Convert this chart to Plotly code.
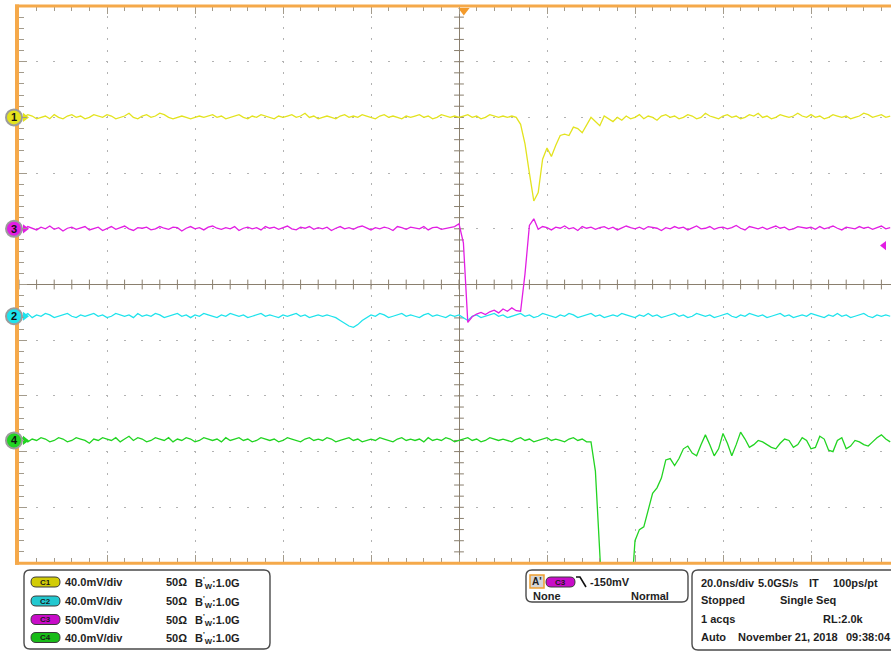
import numpy as np
import plotly.graph_objects as go

# ---------------- acquisition record: 1 ns per point, screen centre = 0 ns ----------------
T_FIRST_NS = -100
T_STEP_NS = 1.0

ch1_mv = [
    1, 0, 2, 1, -1, 0, 1, -1, 2, 0,
    -1, 1, 2, 0, 1, -1, 0, 2, 1, 0,
    2, 1, -1, 0, 1, 3, 0, -1, 1, 2,
    0, 1, 3, 2, 0, -1, 0, 1, 0, -1,
    0, 1, 0, 1, 2, 0, 1, -1, 0, 1,
    2, 0, -1, 1, 0, 2, 1, 0, -1, 1,
    0, 1, 2, 0, 1, 3, 0, 1, -1, 0,
    1, 0, -1, 1, 2, 0, 1, 0, 2, 1,
    0, -1, 1, 2, 0, 1, 0, -1, 1, 0,
    1, 2, 0, 1, -1, 0, 2, 1, 0, 1,
    0, 1, 2, 0, 1, -1, 0, 2, 1, 0,
    1, 0, 1, 0, -5, -19, -40, -60, -54, -30,
    -22, -28, -20, -13, -12, -13, -7, -8, -11, -6,
    0, -3, -6, 1, -1, -3, 0, -2, 1, -1,
    0, 2, -1, 1, 0, -2, 1, 2, 0, 1,
    -1, 0, 2, 1, -1, 0, 3, 1, 0, -1,
    1, 2, 0, 1, -1, 0, 2, 1, 3, 0,
    1, -1, 0, 2, 1, 0, 1, 3, 1, 0,
    2, 0, 1, -1, 0, 2, 1, 0, 1, -1,
    0, 1, 3, 2, 0, 1, 2, 0, 1,
]

ch2_mv = [
    1, 0, 2, -1, 1, 0, 2, 1, -1, 0,
    1, 2, 0, -1, 1, 0, 1, 2, 0, 1,
    -1, 0, 2, 1, 0, 1, -1, 2, 0, 1,
    0, 2, 1, -1, 0, 1, 2, 0, 1, -1,
    1, 0, 2, 1, 0, -1, 1, 0, 2, 1,
    0, 1, -1, 0, 1, 2, 0, 1, 0, -1,
    1, 0, 1, 2, 0, 1, -1, 0, 1, 0,
    1, 0, -1, -3, -5, -7, -8, -6, -3, -1,
    1, 0, 2, 1, -1, 0, 1, 2, 0, 1,
    0, -1, 1, 2, 0, 1, 0, -1, 1, 0,
    1, -1, -3, 0, 1, -1, 0, 1, 2, 0,
    1, -1, 0, 1, 2, 0, 1, -1, 0, 2,
    1, 0, -1, 1, 0, 2, 1, -1, 0, 1,
    2, 0, 1, -1, 0, 1, 0, 2, 1, 0,
    -1, 1, 0, 2, 0, 1, -1, 0, 1, 2,
    0, 1, -1, 0, 2, 1, 0, 1, -1, 0,
    1, 2, 0, -1, 1, 0, 2, 1, 0, 1,
    -1, 0, 1, 2, 0, 1, -1, 0, 1, 0,
    2, 1, 0, -1, 1, 0, 2, 0, 1, -1,
    0, 1, 2, 0, -1, 1, 0, 1, 0,
]

ch3_mv = [
    10, -15, 20, 5, -10, 15, 0, 25, -5, 10,
    -20, 5, 15, -5, 10, 20, -10, 0, 15, -15,
    5, 20, -5, 10, 25, 0, -15, 10, 5, 15,
    -10, 0, 20, 5, -5, 15, 10, -20, 5, 20,
    0, 10, -10, 15, 25, 5, -5, 10, 0, 20,
    -15, 5, 15, 0, 10, -10, 20, 5, 15, -5,
    10, 25, 0, -10, 15, 5, 20, -5, 10, 0,
    15, -15, 5, 20, 0, 10, -5, 15, 25, 5,
    -10, 10, 0, 15, 5, -15, 20, 10, -5, 15,
    5, 0, 20, -10, 10, 15, -5, 5, 10, 20,
    45, -125, -840, -790, -765, -750, -770, -745, -730, -755,
    -720, -740, -710, -735, -740, -405, 30, 90, -5, 20,
    10, -10, 15, 5, 25, 0, 10, -15, 20, 5,
    15, -5, 10, 20, 0, 15, -10, 5, 25, 10,
    0, 15, -5, 20, 10, 5, -15, 10, 0, 20,
    5, 15, -10, 10, 25, 0, 5, 20, -5, 10,
    15, 0, 10, 30, 5, -10, 20, 10, 0, 15,
    -5, 10, 25, 5, 15, -10, 0, 20, 10, 5,
    15, -5, 20, 0, 10, 25, 5, -10, 15, 10,
    0, 20, 5, 15, -5, 10, 25, 0, 10,
]

ch4_mv = [
    0, 2, -1, 1, 0, 2, 1, -1, 0, 2,
    1, -1, 0, 2, 1, 0, -2, 1, 0, 2,
    1, 0, 2, -1, 1, 3, 0, 2, 1, -1,
    0, 2, 1, 0, 2, -1, 1, 0, 2, 1,
    -1, 0, 2, 1, 0, 1, -1, 2, 0, 1,
    2, 0, 1, -1, 0, 2, 1, 0, 1, -1,
    0, 2, 1, 0, -1, 1, 2, 0, 1, 0,
    2, 1, -1, 0, 1, 2, 0, 1, -1, 0,
    1, 0, 2, 1, 0, -1, 1, 2, 0, 1,
    0, 1, -1, 2, 0, 1, 0, 2, 1, -1,
    0, 1, 2, 0, 1, -1, 0, 2, 1, 0,
    1, 0, -1, 1, 2, 0, 1, -1, 0, 1,
    2, 0, 1, 0, -1, 1, 2, 0, 1, -1,
    -1, -22, -75, -140, -150, -150, -150, -150, -150, -118,
    -72, -64, -62, -50, -38, -34, -27, -14, -13, -18,
    -13, -6, -4, -9, -11, -3, 4, -3, -11, -6,
    5, -2, -11, -3, 6, 1, -5, -3, 0, -1,
    -3, -5, -6, -2, 1, 0, -5, -3, 2, 0,
    -6, -5, 3, 1, -7, -8, 0, 2, -6, -4,
    0, -1, -3, -4, -1, 2, 4, 1, -1,
]

# ---------------- vertical / horizontal / trigger settings ----------------
CH_LABELS = ["1", "2", "3", "4"]
CH_DATA = [ch1_mv, ch2_mv, ch3_mv, ch4_mv]
CH_SCALE_MV = [40.0, 40.0, 500.0, 40.0]       # mV/div
CH_POS_DIV = [3.0, -0.57, 1.0, -2.8]           # ground marker position
CH_COLORS = ["#E3E31E", "#1EE3EC", "#E21EE3", "#22D422"]
CH_PILL = ["#D2CC06", "#22C8D0", "#C80CC8", "#18BC18"]
DRAW_ORDER = [0, 1, 2, 3]

NS_PER_DIV = 20.0
DIVS = 10
TRIG_TIME_NS = 1.1
TRIG_CH = 2
TRIG_LEVEL_MV = -150.0

readout_ch = ["40.0mV/div", "40.0mV/div", "500mV/div", "40.0mV/div"]
readout_pill = ["C1", "C2", "C3", "C4"]
readout_term = "50Ω"
readout_bw = "B<sup>'</sup><sub>W</sub>:1.0G"
readout_trig = "-150mV"
readout_trig_row2 = ["None", "Normal"]
readout_acq = [
    [("20.0ns/div", 700), ("5.0GS/s", 757), ("IT", 808), ("100ps/pt", 832)],
    [("Stopped", 700), ("Single Seq", 779)],
    [("1 acqs", 700), ("RL:2.0k", 822)],
    [("Auto", 700), ("November 21, 2018", 737), ("09:38:04", 845)],
]

# ---------------- page geometry ----------------
FIG_W, FIG_H = 891, 651
SCR_L, SCR_T, SCR_B = 19, 6, 563
PX_PER_DIV_X = 88.0
PLOT_W = FIG_W - SCR_L
PLOT_H = SCR_B - SCR_T

X_MIN = -DIVS / 2 * NS_PER_DIV
X_MAX = X_MIN + PLOT_W / PX_PER_DIV_X * NS_PER_DIV
PX_PER_NS = PX_PER_DIV_X / NS_PER_DIV
PX_PER_DIV_Y = PLOT_H / DIVS

GRID = "#B2B2B2"
TICK = "#A39B8C"
AXIS = "#8A7F6E"
ORANGE = "#F5A94A"
INK = "#1E1E1E"
FONT = "Liberation Sans, Arial, sans-serif"
TXT = 11


def px(x):
    return (x - SCR_L) / PLOT_W


def py(y):
    return (SCR_B - y) / PLOT_H


def t_at(xpix):
    return X_MIN + (xpix - SCR_L) / PX_PER_NS


def rrect(x0, y0, x1, y1, r):
    """Rounded rectangle path (pixel input, paper output)."""
    pts = [
        f"M{px(x0 + r)},{py(y0)}",
        f"L{px(x1 - r)},{py(y0)}",
        f"Q{px(x1)},{py(y0)} {px(x1)},{py(y0 + r)}",
        f"L{px(x1)},{py(y1 - r)}",
        f"Q{px(x1)},{py(y1)} {px(x1 - r)},{py(y1)}",
        f"L{px(x0 + r)},{py(y1)}",
        f"Q{px(x0)},{py(y1)} {px(x0)},{py(y1 - r)}",
        f"L{px(x0)},{py(y0 + r)}",
        f"Q{px(x0)},{py(y0)} {px(x0 + r)},{py(y0)}",
        "Z",
    ]
    return " ".join(pts)


n = len(ch1_mv)
assert all(len(d) == n for d in CH_DATA)
time_ns = T_FIRST_NS + T_STEP_NS * np.arange(n)

fig = go.Figure()

# centre-cross tick marks of the graticule
minor_x = np.arange(X_MIN, X_MAX + 1e-9, NS_PER_DIV / 5)
minor_y = np.arange(-DIVS / 2, DIVS / 2 + 1e-9, 0.2)
fig.add_trace(go.Scatter(
    x=minor_x, y=np.zeros_like(minor_x), mode="markers", hoverinfo="skip",
    marker=dict(symbol="line-ns", size=7, line=dict(color=AXIS, width=1)),
))
fig.add_trace(go.Scatter(
    x=np.zeros_like(minor_y), y=minor_y, mode="markers", hoverinfo="skip",
    marker=dict(symbol="line-ew", size=7, line=dict(color=AXIS, width=1)),
))

# waveforms, each on its own vertical scale
for i in DRAW_ORDER:
    fig.add_trace(go.Scatter(
        x=time_ns, y=CH_DATA[i], mode="lines", yaxis=f"y{i + 2}",
        line=dict(color=CH_COLORS[i], width=1.3), hoverinfo="skip",
    ))

# small arrows of the ground-level markers
for i in range(4):
    fig.add_trace(go.Scatter(
        x=[t_at(25)], y=[0], yaxis=f"y{i + 2}", mode="markers", hoverinfo="skip",
        marker=dict(symbol="triangle-right", size=8, color=CH_COLORS[i]),
        cliponaxis=False,
    ))

# trigger position (top) and trigger level (right)
fig.add_trace(go.Scatter(
    x=[TRIG_TIME_NS], y=[DIVS / 2 - 4.5 / PX_PER_DIV_Y], mode="markers", hoverinfo="skip",
    marker=dict(symbol="triangle-down", size=10, color="#F39A2A"), cliponaxis=False,
))
fig.add_trace(go.Scatter(
    x=[t_at(884)], y=[TRIG_LEVEL_MV], yaxis=f"y{TRIG_CH + 2}", mode="markers",
    hoverinfo="skip", marker=dict(symbol="triangle-left", size=8, color=CH_COLORS[TRIG_CH]),
))

layout_axes = {}
for i in range(4):
    s, p = CH_SCALE_MV[i], CH_POS_DIV[i]
    layout_axes[f"yaxis{i + 2}"] = dict(
        overlaying="y", range=[(-DIVS / 2 - p) * s, (DIVS / 2 - p) * s],
        visible=False, fixedrange=True,
    )

fig.update_layout(
    width=FIG_W, height=FIG_H,
    margin=dict(l=SCR_L, r=0, t=SCR_T, b=FIG_H - SCR_B, pad=0),
    paper_bgcolor="white", plot_bgcolor="white",
    showlegend=False,
    xaxis=dict(
        range=[X_MIN, X_MAX], tick0=0, dtick=NS_PER_DIV,
        showgrid=True, gridcolor=GRID, gridwidth=1, griddash="1px,9.14px,1px,0px",
        zeroline=True, zerolinecolor=AXIS, zerolinewidth=1,
        showline=False, showticklabels=False,
        ticks="inside", ticklen=8, tickcolor=TICK, tickwidth=1, mirror="ticks",
        minor=dict(dtick=NS_PER_DIV / 5, tick0=0, ticks="inside", ticklen=5,
                   tickcolor=TICK, tickwidth=1, showgrid=False),
        fixedrange=True,
    ),
    yaxis=dict(
        range=[-DIVS / 2, DIVS / 2], tick0=0, dtick=1,
        showgrid=True, gridcolor=GRID, gridwidth=1, griddash="1px,15.6px,1px,0px",
        zeroline=True, zerolinecolor=AXIS, zerolinewidth=1,
        showline=False, showticklabels=False,
        ticks="inside", ticklen=8, tickcolor=TICK, tickwidth=1,
        minor=dict(dtick=0.2, tick0=0, ticks="inside", ticklen=5,
                   tickcolor=TICK, tickwidth=1, showgrid=False),
        fixedrange=True,
    ),
    **layout_axes,
)

shapes = []
annotations = []

# orange screen frame
shapes.append(dict(type="line", xref="paper", yref="paper", x0=px(17), x1=px(17),
                   y0=py(4.5), y1=py(564.8), line=dict(color=ORANGE, width=4)))
shapes.append(dict(type="line", xref="paper", yref="paper", x0=px(15), x1=px(900),
                   y0=py(6), y1=py(6), line=dict(color=ORANGE, width=3)))
shapes.append(dict(type="line", xref="paper", yref="paper", x0=px(15), x1=px(900),
                   y0=py(563.3), y1=py(563.3), line=dict(color=ORANGE, width=3)))

# ground-level badges, anchored at 0 mV on each channel's own scale
for i in range(4):
    shapes.append(dict(
        type="circle", xref="paper", xsizemode="pixel", xanchor=px(14), x0=-8, x1=8,
        yref=f"y{i + 2}", ysizemode="pixel", yanchor=0, y0=-8, y1=8,
        line=dict(color="#9C9C9C", width=2), fillcolor=CH_COLORS[i], layer="above",
    ))
    annotations.append(dict(
        text=CH_LABELS[i], x=px(14), y=0, xref="paper", yref=f"y{i + 2}",
        xanchor="center", yanchor="middle", showarrow=False,
        font=dict(family=FONT, size=11, color="#111111", weight="bold"),
    ))

# readout panels
for (x0, y0, x1, y1) in [(24, 570, 270, 649), (526, 570, 688, 602), (692, 570, 905, 650)]:
    shapes.append(dict(type="path", xref="paper", yref="paper", path=rrect(x0, y0, x1, y1, 6),
                       line=dict(color="#4A4A4A", width=1.4), fillcolor="white"))


def label(text, x, y, size=TXT, anchor="left", color=INK, weight="bold"):
    annotations.append(dict(
        text=text, x=px(x), y=py(y), xref="paper", yref="paper",
        xanchor=anchor, yanchor="middle", showarrow=False, borderpad=0,
        font=dict(family=FONT, size=size, color=color, weight=weight),
    ))


def pill(x0, yc, color, text):
    shapes.append(dict(type="path", xref="paper", yref="paper",
                       path=rrect(x0, yc - 5, x0 + 29, yc + 5, 5),
                       line=dict(color="#3A3A3A", width=1), fillcolor=color))
    label(text, x0 + 14.5, yc, size=8, anchor="center", color="#1A1A1A")


rows_y = [582, 601, 619.5, 637.5]
for i in range(4):
    yc = rows_y[i]
    pill(31, yc, CH_PILL[i], readout_pill[i])
    label(readout_ch[i], 64, yc)
    label(readout_term, 165, yc)
    label(readout_bw, 194, yc + 0.5)

# trigger panel
shapes.append(dict(type="rect", xref="paper", yref="paper",
                   x0=px(530), x1=px(544), y0=py(575), y1=py(588),
                   line=dict(color="#F0A030", width=1.5), fillcolor="#D6D6D6"))
label("A'", 537, 581.5, size=10, anchor="center")
pill(546, 582, CH_PILL[TRIG_CH], "C3")
shapes.append(dict(type="path", xref="paper", yref="paper",
                   path=f"M{px(576)},{py(577)} L{px(580)},{py(577)} L{px(586)},{py(587)}",
                   line=dict(color="#111111", width=1.6)))
label(readout_trig, 589, 581.5)
label(readout_trig_row2[0], 532, 595.5)
label(readout_trig_row2[1], 670, 595.5, anchor="right")

# acquisition panel
acq_rows_y = [582.5, 600, 618.5, 637]
for row, yc in zip(readout_acq, acq_rows_y):
    for text, x in row:
        label(text, x, yc)

fig.update_layout(shapes=shapes, annotations=annotations)

fig.write_html("out.html", config=dict(displayModeBar=False, staticPlot=True))
